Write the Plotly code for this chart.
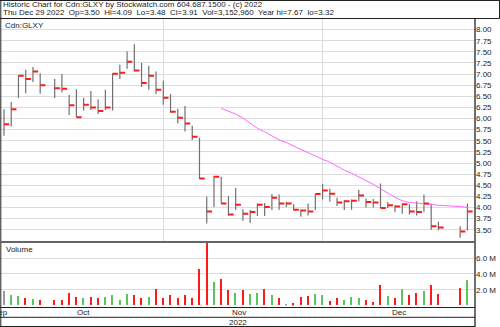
import numpy as np
import plotly.graph_objects as go

# ---------------- data ----------------
dates = [
    "2022-09-30", "2022-10-03", "2022-10-04", "2022-10-05", "2022-10-06", "2022-10-07",
    "2022-10-11", "2022-10-12", "2022-10-13", "2022-10-14", "2022-10-17", "2022-10-18",
    "2022-10-19", "2022-10-20", "2022-10-21", "2022-10-24", "2022-10-25", "2022-10-26",
    "2022-10-27", "2022-10-28", "2022-10-31", "2022-11-01", "2022-11-02", "2022-11-03",
    "2022-11-04", "2022-11-07", "2022-11-08", "2022-11-09", "2022-11-10", "2022-11-11",
    "2022-11-14", "2022-11-15", "2022-11-16", "2022-11-17", "2022-11-18", "2022-11-21",
    "2022-11-22", "2022-11-23", "2022-11-24", "2022-11-25", "2022-11-28", "2022-11-29",
    "2022-11-30", "2022-12-01", "2022-12-02", "2022-12-05", "2022-12-06", "2022-12-07",
    "2022-12-08", "2022-12-09", "2022-12-12", "2022-12-13", "2022-12-14", "2022-12-15",
    "2022-12-16", "2022-12-19", "2022-12-20", "2022-12-21", "2022-12-22", "2022-12-23",
    "2022-12-28", "2022-12-29",
]
highs = [
    6.21, 6.37, 6.97, 7.10, 7.16, 7.02,
    6.89, 7.00, 6.53, 6.66, 6.47, 6.62,
    6.43, 6.65, 7.02, 7.21, 7.51, 7.67,
    7.25, 7.19, 7.06, 6.85, 6.55, 6.22,
    6.28, 5.84, 5.57, 4.24, 4.70, 4.69,
    4.25, 4.44, 3.96, 3.94, 4.09, 4.10,
    4.30, 4.29, 4.13, 4.07, 3.96, 4.09,
    4.31, 4.53, 4.42, 4.22, 4.16, 4.18,
    4.40, 4.20, 4.19, 4.54, 4.12, 4.05,
    4.09, 4.07, 4.14, 4.29, 4.09, 3.68,
    3.58, 4.09,
]
lows = [
    5.61, 5.82, 6.46, 6.57, 6.82, 6.56,
    6.46, 6.59, 6.08, 6.03, 6.18, 6.19,
    6.10, 6.19, 6.18, 6.89, 7.12, 7.06,
    6.71, 6.65, 6.55, 6.31, 6.13, 5.89,
    5.71, 5.52, 4.64, 3.64, 4.01, 4.09,
    3.82, 3.94, 3.70, 3.65, 3.81, 3.81,
    3.94, 3.95, 4.01, 3.94, 3.79, 3.82,
    3.94, 4.18, 4.13, 4.03, 3.94, 3.95,
    4.14, 4.00, 4.00, 3.99, 3.99, 3.90,
    3.86, 3.84, 3.82, 3.90, 3.50, 3.49,
    3.32, 3.48,
]
closes = [
    5.87, 6.21, 6.96, 6.89, 7.06, 6.75,
    6.68, 6.67, 6.30, 6.03, 6.31, 6.25,
    6.17, 6.25, 7.01, 7.03, 7.28, 7.08,
    6.80, 6.96, 6.65, 6.47, 6.15, 6.02,
    5.89, 5.59, 4.65, 3.91, 4.69, 4.09,
    3.84, 4.06, 3.86, 3.90, 4.06, 4.01,
    4.22, 4.09, 4.09, 3.95, 3.93, 3.91,
    4.30, 4.38, 4.31, 4.11, 4.14, 4.15,
    4.27, 4.12, 4.11, 3.99, 4.05, 4.02,
    4.07, 3.91, 3.90, 4.09, 3.58, 3.55,
    3.46, 3.91,
]
volumes_m = [
    1.79, 1.24, 1.15, 0.86, 0.77, 0.68,
    0.68, 0.64, 1.49, 1.03, 0.86, 0.98,
    0.86, 1.03, 1.24, 0.60, 1.37, 1.24,
    0.86, 1.03, 2.00, 0.86, 1.24, 0.86,
    1.24, 0.86, 4.64, 8.60, 2.98, 3.37,
    1.88, 1.54, 1.88, 1.40, 1.54, 2.00,
    1.24, 0.94, 0.05, 0.22, 1.03, 1.20,
    1.37, 1.24, 0.56, 0.86, 0.64, 0.98,
    0.86, 0.64, 0.43, 2.60, 1.11, 0.86,
    2.00, 1.24, 1.49, 1.79, 2.60, 1.37,
    2.17, 3.15,
]
ma_line = [None] * 29 + [
    6.23, 6.17, 6.10, 6.01, 5.89, 5.78,
    5.70, 5.61, 5.52, 5.46, 5.38, 5.31,
    5.23, 5.16, 5.08, 5.02, 4.93, 4.84,
    4.77, 4.69, 4.60, 4.52, 4.42, 4.32,
    4.23, 4.15, 4.11, 4.10, 4.08, 4.07,
    4.05, 4.02, 4.00,
]

price_tick_labels = ["3.50", "3.75", "4.00", "4.25", "4.50", "4.75", "5.00", "5.25",
                     "5.50", "5.75", "6.00", "6.25", "6.50", "6.75", "7.00", "7.25",
                     "7.50", "7.75", "8.00"]
vol_tick_values = [2, 4, 6]
vol_tick_labels = ["2.0 M", "4.0 M", "6.0 M"]
month_names = ["Sep", "Oct", "Nov", "Dec"]
month_mid_days = [("2022-09-15", "2022-09-16"), ("2022-10-15", "2022-10-16"),
                  ("2022-11-15", "2022-11-16"), ("2022-12-15", "2022-12-16")]
month_starts = ["2022-11-01", "2022-12-01"]
year_label = "2022"
symbol = "Cdn:GLXY"
NB = "\u00a0"
title_line1 = "Historic Chart for Cdn:GLXY by Stockwatch.com 604.687.1500 - (c) 2022"
title_line2 = NB.join(["Thu Dec 29 2022", "", "Op=3.50", "", "Hi=4.09", "", "Lo=3.48", "",
                       "Cl=3.91", "", "Vol=3,152,960", "", "Year hi=7.67", "", "lo=3.32"])

# ---------------- geometry / style ----------------
W, H = 500, 327
def px(x):
    return x / W
def py(y):
    return 1 - y / H

FONT = "Liberation Sans, Arial, sans-serif"
TXT = "#222222"
GRID = "#dcdcdc"
BAR = "#707070"
RED = "#ff1a1a"
GREEN = "#5cc45c"
GRAY = "#9a9a9a"
MA = "#ff66ff"

PANEL_R = 475
XR = [-0.55, 65.05]

d0 = np.datetime64(dates[0])
pos = np.busday_count(d0, np.array(dates, dtype="datetime64[D]")).astype(float)
grid_pos = np.busday_count(d0, np.array(month_starts, dtype="datetime64[D]")).astype(float)
month_pos = []
for a, b in month_mid_days:
    m = (np.busday_count(d0, np.datetime64(a)) + np.busday_count(d0, np.datetime64(b))) / 2
    month_pos.append(max(float(m), XR[0]))

hl_x, hl_y = [], []
for p, h, l in zip(pos, highs, lows):
    hl_x += [p, p, None]
    hl_y += [l, h, None]

TICK = 0.72
c_x, c_y = [], []
for p, c in zip(pos, closes):
    c_x += [p, p + TICK, None]
    c_y += [c, c, None]

vol_colors = []
for i, c in enumerate(closes):
    if i == 0 or c == closes[i - 1]:
        vol_colors.append(GRAY)
    elif c > closes[i - 1]:
        vol_colors.append(GREEN)
    else:
        vol_colors.append(RED)

fig = go.Figure()
fig.add_trace(go.Scatter(x=hl_x, y=hl_y, mode="lines", line=dict(color=BAR, width=1.2),
                         xaxis="x", yaxis="y", hoverinfo="skip", showlegend=False))
fig.add_trace(go.Scatter(x=pos, y=ma_line, mode="lines", line=dict(color=MA, width=1),
                         xaxis="x", yaxis="y", showlegend=False))
fig.add_trace(go.Scatter(x=c_x, y=c_y, mode="lines", line=dict(color=RED, width=2),
                         xaxis="x", yaxis="y", hoverinfo="skip", showlegend=False))
fig.add_trace(go.Bar(x=pos, y=volumes_m, width=0.2, marker=dict(color=vol_colors, line=dict(width=0)),
                     xaxis="x2", yaxis="y2", showlegend=False))

price_dom = [py(240.8), py(18.5)]
vol_dom = [py(305.5), py(242.3)]
xdom = [0, px(PANEL_R)]

fig.update_layout(
    width=W, height=H, autosize=False,
    margin=dict(l=0, r=0, t=0, b=0, pad=0),
    paper_bgcolor="white", plot_bgcolor="white",
    font=dict(family=FONT, size=8, color=TXT),
    bargap=0,
    xaxis=dict(domain=xdom, range=XR, anchor="y", tickmode="array", tickvals=list(grid_pos),
               showticklabels=False, ticks="", showgrid=True, gridcolor=GRID, gridwidth=1,
               zeroline=False, showline=False, fixedrange=True),
    yaxis=dict(domain=price_dom, range=[3.25, 8.25], anchor="x", side="right",
               tickmode="array", tickvals=[float(t) for t in price_tick_labels],
               ticktext=price_tick_labels, ticks="", showgrid=True, gridcolor=GRID,
               zeroline=False, showline=False, automargin=False,
               tickfont=dict(family=FONT, size=8, color=TXT)),
    xaxis2=dict(domain=xdom, range=XR, anchor="y2", matches="x", showticklabels=False,
                ticks="", showgrid=False, zeroline=False, showline=False),
    yaxis2=dict(domain=vol_dom, range=[0, 8], anchor="x2", side="right",
                tickmode="array", tickvals=vol_tick_values, ticktext=vol_tick_labels,
                ticks="", showgrid=True, gridcolor=GRID, zeroline=False, showline=False,
                automargin=False, tickfont=dict(family=FONT, size=8, color=TXT)),
)

ann = []
ann.append(dict(xref="paper", yref="paper", x=px(1), y=py(4.6), xanchor="left", yanchor="middle",
                text=title_line1, showarrow=False, font=dict(size=8, color=TXT)))
ann.append(dict(xref="paper", yref="paper", x=px(1), y=py(12.2), xanchor="left", yanchor="middle",
                text=title_line2, showarrow=False, font=dict(size=8, color=TXT)))
ann.append(dict(xref="paper", yref="paper", x=px(3), y=py(25), xanchor="left", yanchor="middle",
                text=symbol, showarrow=False, font=dict(size=8, color=TXT)))
ann.append(dict(xref="paper", yref="paper", x=px(4), y=py(249), xanchor="left", yanchor="middle",
                text="Volume", showarrow=False, font=dict(size=8, color=TXT)))
for name, mp in zip(month_names, month_pos):
    ann.append(dict(xref="x2", yref="paper", x=mp, y=py(312.5), xanchor="center", yanchor="middle",
                    text=name, showarrow=False, font=dict(size=8, color=TXT)))
ann.append(dict(xref="paper", yref="paper", x=px(PANEL_R / 2), y=py(322), xanchor="center",
                yanchor="middle", text=year_label, showarrow=False, font=dict(size=8, color=TXT)))
fig.update_layout(annotations=ann)

LINE = "#222222"
def hline(y, x0, x1, color=LINE, w=1):
    return dict(type="line", xref="paper", yref="paper", x0=px(x0), x1=px(x1), y0=py(y), y1=py(y),
                line=dict(color=color, width=w), layer="above")
def vline(x, y0, y1, color=LINE, w=1):
    return dict(type="line", xref="paper", yref="paper", x0=px(x), x1=px(x), y0=py(y0), y1=py(y1),
                line=dict(color=color, width=w), layer="above")

shapes = [
    hline(0.5, 0, 499.5), hline(18.5, 0, 499.5), vline(499.5, 0, 18.5),
    vline(0.8, 0, 327), vline(PANEL_R, 18.5, 327, w=1.3),
    hline(242, 0, PANEL_R, color="#666666", w=2),
    hline(307.5, 0, PANEL_R), hline(317.3, 0, PANEL_R), hline(326.5, 0, PANEL_R),
]
fig.update_layout(shapes=shapes)

fig.write_html("out.html")
